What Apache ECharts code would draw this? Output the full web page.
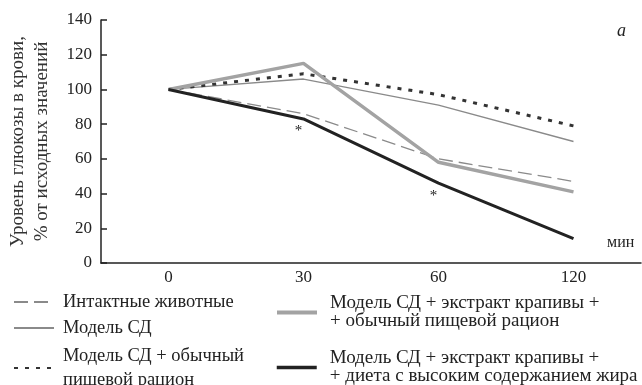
<!DOCTYPE html>
<html><head><meta charset="utf-8">
<script src="https://cdn.jsdelivr.net/npm/echarts@6/dist/echarts.min.js"></script>
<style>html,body{margin:0;padding:0;background:#fff}#c{width:642px;height:385px}</style>
</head><body><div id="c"></div>
<script>
const categories = ['0', '30', '60', '120'];
const intact = [100, 86, 60, 47];
const modelSD = [100, 106, 91, 70];
const modelNormal = [100, 109, 97, 79];
const nettleNormal = [100, 115, 58, 41];
const nettleFat = [100, 83, 46, 14];
const yTicks = { min: 0, max: 140, interval: 20 };

const names = [
  'Интактные животные',
  'Модель СД',
  'Модель СД + обычный\nпищевой рацион',
  'Модель СД + экстракт крапивы +\n+ обычный пищевой рацион',
  'Модель СД + экстракт крапивы +\n+ диета с высоким содержанием жира'
];
const FONT = 'Liberation Serif';
const chart = echarts.init(document.getElementById('c'));
const legTxt = (fs, lh, pl) => ({ fontFamily: FONT, fontSize: fs, color: '#222', lineHeight: lh, padding: [0, 0, 0, pl] });
const legCommon = { orient: 'vertical', padding: 0, itemHeight: 12, itemWidth: 40, itemStyle: { opacity: 0 } };
const starLabel = { show: true, formatter: '*', position: 'bottom', offset: [-5, 0], fontFamily: FONT, fontSize: 15, color: '#222' };
chart.setOption({
  animation: false,
  grid: { left: 101, right: 1, top: 20, bottom: 122, outerBoundsMode: 'none', containLabel: false },
  xAxis: {
    type: 'category', data: categories, boundaryGap: true,
    axisLine: { lineStyle: { color: '#222', width: 1.5 } },
    axisTick: { inside: true, length: 6, lineStyle: { color: '#222', width: 1.5 } },
    axisLabel: { fontFamily: FONT, fontSize: 17, color: '#222', margin: 6 }
  },
  yAxis: {
    type: 'value', min: yTicks.min, max: yTicks.max, interval: yTicks.interval,
    name: 'Уровень глюкозы в крови,\n% от исходных значений',
    nameLocation: 'middle', nameGap: 47, nameRotate: 90,
    nameTextStyle: { fontFamily: FONT, fontSize: 19, color: '#333', lineHeight: 24 },
    axisLine: { show: true, lineStyle: { color: '#222', width: 1.5 } },
    axisTick: { show: true, inside: true, length: 6, lineStyle: { color: '#222', width: 1.5 } },
    axisLabel: { fontFamily: FONT, fontSize: 17, color: '#222', margin: 9 },
    splitLine: { show: false }
  },
  legend: [
    Object.assign({}, legCommon, { left: 13, top: 292, itemGap: 6, textStyle: legTxt(18.5, 20, 4), data: [names[0], names[1]] }),
    Object.assign({}, legCommon, { left: 13, top: 344, textStyle: legTxt(18.5, 24, 4), data: [names[2]] }),
    Object.assign({}, legCommon, { left: 275, top: 294, textStyle: legTxt(19, 18, 8), lineStyle: { width: 4 }, data: [names[3]] }),
    Object.assign({}, legCommon, { left: 275, top: 349, textStyle: legTxt(19, 18, 8), lineStyle: { width: 3.5 }, data: [names[4]] })
  ],
  series: [
    { name: names[0], type: 'line', data: intact, symbol: 'none', lineStyle: { color: '#8a8a8a', width: 1.3, type: [14, 6] }, itemStyle: { color: '#8a8a8a' } },
    { name: names[1], type: 'line', data: modelSD, symbol: 'none', lineStyle: { color: '#8a8a8a', width: 1.3 }, itemStyle: { color: '#8a8a8a' } },
    { name: names[2], type: 'line', data: modelNormal, symbol: 'none', lineStyle: { color: '#333', width: 3, type: [4, 7] }, itemStyle: { color: '#333' } },
    { name: names[3], type: 'line', data: nettleNormal, symbol: 'none', lineStyle: { color: '#a3a3a3', width: 3.5 }, itemStyle: { color: '#a3a3a3' } },
    { name: names[4], type: 'line', symbol: 'circle', symbolSize: 0, showSymbol: true, lineStyle: { color: '#222', width: 3 }, itemStyle: { color: '#222' },
      data: nettleFat.map((v, i) => (i === 1 || i === 2) ? { value: v, label: starLabel } : v) }
  ],
  graphic: [
    { type: 'text', left: 617, top: 22, style: { text: 'a', fontFamily: FONT, fontStyle: 'italic', fontSize: 18, fill: '#222' } },
    { type: 'text', left: 607, top: 235, style: { text: 'мин', fontFamily: FONT, fontSize: 16, fill: '#222' } }
  ]
});
</script></body></html>
